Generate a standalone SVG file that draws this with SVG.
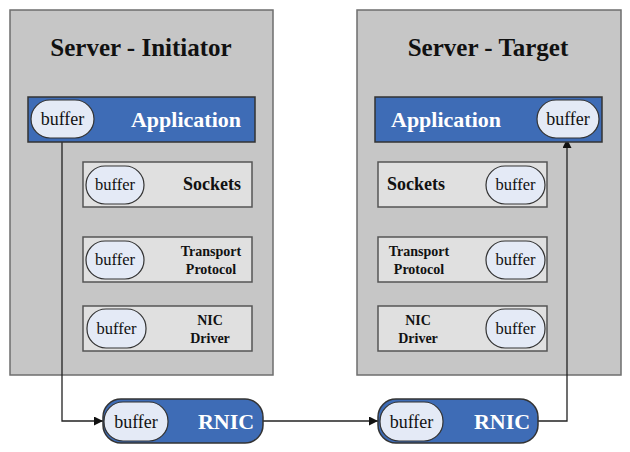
<svg xmlns="http://www.w3.org/2000/svg" width="630" height="452" viewBox="0 0 630 452">
<defs>
<marker id="arr" viewBox="0 0 10 10" refX="10" refY="5" markerWidth="9" markerHeight="9" markerUnits="userSpaceOnUse" orient="auto">
<path d="M0,0 L10,5 L0,10 z" fill="#111"/>
</marker>
</defs>
<rect width="630" height="452" fill="#fff"/>

<g id="server-initiator">
<rect x="10" y="10" width="263" height="365" fill="#C6C6C6" stroke="#6E6E6E" stroke-width="1.5"/>
<text font-family="Liberation Serif" font-size="25" font-weight="bold" fill="#111" text-anchor="middle" x="141" y="56">Server - Initiator</text>
</g>
<g id="server-target">
<rect x="357" y="10" width="264" height="365" fill="#C6C6C6" stroke="#6E6E6E" stroke-width="1.5"/>
<text font-family="Liberation Serif" font-size="25" font-weight="bold" fill="#111" text-anchor="middle" x="488" y="56">Server - Target</text>
</g>

<g id="conns" fill="none" stroke="#222" stroke-width="1.3">
<path d="M62,138 V421 H103" marker-end="url(#arr)"/>
<path d="M263,421 H378" marker-end="url(#arr)"/>
<path d="M538,421 H567 V139" marker-end="url(#arr)"/>
</g>

<g id="init-app">
<rect x="28" y="97" width="227" height="45" fill="#3E6CB6" stroke="#333" stroke-width="1.5"/>
<rect x="31" y="100" width="63" height="38" rx="19" fill="#E4EAF6" stroke="#333" stroke-width="1.2"/>
<text font-family="Liberation Serif" font-size="18" fill="#111" text-anchor="middle" x="62.5" y="125">buffer</text>
<text font-family="Liberation Serif" font-size="22" font-weight="bold" fill="#fff" text-anchor="end" x="241" y="127">Application</text>
</g>
<g id="init-sockets">
<rect x="83" y="162" width="169" height="45" fill="#E0E0E0" stroke="#555" stroke-width="1.5"/>
<rect x="86" y="166" width="58" height="38" rx="19" fill="#E4EAF6" stroke="#333" stroke-width="1.2"/>
<text font-family="Liberation Serif" font-size="16.5" fill="#111" text-anchor="middle" x="115" y="190">buffer</text>
<text font-family="Liberation Serif" font-size="18" font-weight="bold" fill="#111" text-anchor="end" x="241" y="190">Sockets</text>
</g>
<g id="init-transport">
<rect x="83" y="237" width="169" height="45" fill="#E0E0E0" stroke="#555" stroke-width="1.5"/>
<rect x="86" y="241" width="58" height="38" rx="19" fill="#E4EAF6" stroke="#333" stroke-width="1.2"/>
<text font-family="Liberation Serif" font-size="16.5" fill="#111" text-anchor="middle" x="115" y="265">buffer</text>
<text font-family="Liberation Serif" font-size="14" font-weight="bold" fill="#111" text-anchor="middle" x="211" y="256">Transport</text>
<text font-family="Liberation Serif" font-size="14" font-weight="bold" fill="#111" text-anchor="middle" x="211" y="274">Protocol</text>
</g>
<g id="init-nic">
<rect x="83" y="306" width="169" height="45" fill="#E0E0E0" stroke="#555" stroke-width="1.5"/>
<rect x="87" y="309" width="59" height="39" rx="19" fill="#E4EAF6" stroke="#333" stroke-width="1.2"/>
<text font-family="Liberation Serif" font-size="16.5" fill="#111" text-anchor="middle" x="116.5" y="334">buffer</text>
<text font-family="Liberation Serif" font-size="14" font-weight="bold" fill="#111" text-anchor="middle" x="210" y="325">NIC</text>
<text font-family="Liberation Serif" font-size="14" font-weight="bold" fill="#111" text-anchor="middle" x="210" y="343">Driver</text>
</g>

<g id="target-app">
<rect x="375" y="97" width="227" height="45" fill="#3E6CB6" stroke="#333" stroke-width="1.5"/>
<rect x="537" y="100" width="62" height="38" rx="19" fill="#E4EAF6" stroke="#333" stroke-width="1.2"/>
<text font-family="Liberation Serif" font-size="18" fill="#111" text-anchor="middle" x="568" y="125">buffer</text>
<text font-family="Liberation Serif" font-size="22" font-weight="bold" fill="#fff" x="391" y="127">Application</text>
</g>
<g id="target-sockets">
<rect x="378" y="162" width="169" height="45" fill="#E0E0E0" stroke="#555" stroke-width="1.5"/>
<rect x="486" y="166" width="59" height="38" rx="19" fill="#E4EAF6" stroke="#333" stroke-width="1.2"/>
<text font-family="Liberation Serif" font-size="16.5" fill="#111" text-anchor="middle" x="515.5" y="190">buffer</text>
<text font-family="Liberation Serif" font-size="18" font-weight="bold" fill="#111" x="387" y="190">Sockets</text>
</g>
<g id="target-transport">
<rect x="378" y="237" width="169" height="45" fill="#E0E0E0" stroke="#555" stroke-width="1.5"/>
<rect x="486" y="241" width="59" height="38" rx="19" fill="#E4EAF6" stroke="#333" stroke-width="1.2"/>
<text font-family="Liberation Serif" font-size="16.5" fill="#111" text-anchor="middle" x="515.5" y="265">buffer</text>
<text font-family="Liberation Serif" font-size="14" font-weight="bold" fill="#111" text-anchor="middle" x="419" y="256">Transport</text>
<text font-family="Liberation Serif" font-size="14" font-weight="bold" fill="#111" text-anchor="middle" x="419" y="274">Protocol</text>
</g>
<g id="target-nic">
<rect x="378" y="306" width="169" height="45" fill="#E0E0E0" stroke="#555" stroke-width="1.5"/>
<rect x="486" y="309" width="59" height="39" rx="19" fill="#E4EAF6" stroke="#333" stroke-width="1.2"/>
<text font-family="Liberation Serif" font-size="16.5" fill="#111" text-anchor="middle" x="515.5" y="334">buffer</text>
<text font-family="Liberation Serif" font-size="14" font-weight="bold" fill="#111" text-anchor="middle" x="418" y="325">NIC</text>
<text font-family="Liberation Serif" font-size="14" font-weight="bold" fill="#111" text-anchor="middle" x="418" y="343">Driver</text>
</g>

<g id="rnic-initiator">
<rect x="103" y="399" width="160" height="44" rx="18" fill="#3E6CB6" stroke="#333" stroke-width="1.5"/>
<rect x="104" y="402" width="64" height="39" rx="19" fill="#E4EAF6" stroke="#333" stroke-width="1.2"/>
<text font-family="Liberation Serif" font-size="18" fill="#111" text-anchor="middle" x="136" y="428">buffer</text>
<text font-family="Liberation Serif" font-size="22" font-weight="bold" fill="#fff" text-anchor="middle" x="226" y="429">RNIC</text>
</g>
<g id="rnic-target">
<rect x="378" y="399" width="160" height="44" rx="18" fill="#3E6CB6" stroke="#333" stroke-width="1.5"/>
<rect x="380" y="402" width="63" height="39" rx="19" fill="#E4EAF6" stroke="#333" stroke-width="1.2"/>
<text font-family="Liberation Serif" font-size="18" fill="#111" text-anchor="middle" x="411.5" y="428">buffer</text>
<text font-family="Liberation Serif" font-size="22" font-weight="bold" fill="#fff" text-anchor="middle" x="502" y="429">RNIC</text>
</g>
</svg>
